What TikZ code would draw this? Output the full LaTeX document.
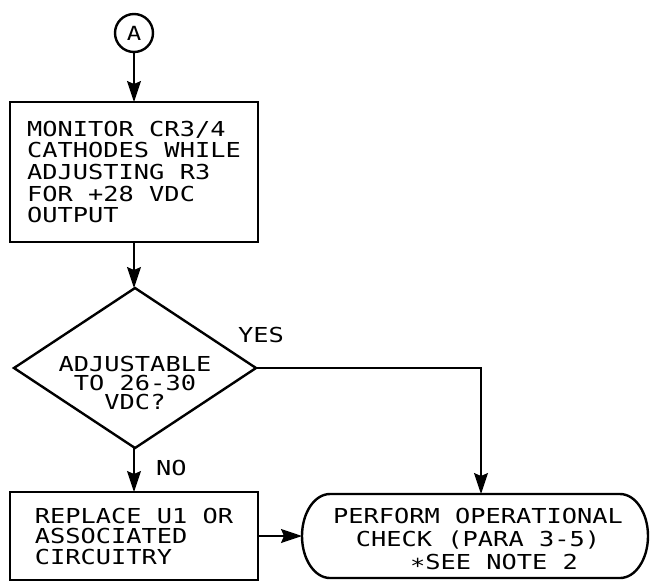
\documentclass[tikz,border=0pt]{standalone}
\usepackage{fontspec}
\usetikzlibrary{arrows.meta,shapes.geometric}
\newfontfamily\plotfont[FakeStretch=1.23]{DejaVu Sans Mono}
\begin{document}
\begin{tikzpicture}[x=1pt,y=-1pt,
  every node/.style={font=\plotfont\fontsize{20.6}{21.7}\selectfont},
  shapeline/.style={draw=black,line width=2.4pt},
  stepbox/.style={shapeline,rectangle,inner sep=0pt,outer sep=0pt},
  decision/.style={shapeline,diamond,inner sep=0pt,outer sep=0pt,
    minimum width=242pt,minimum height=160pt,aspect=1.51},
  conn/.style={draw=black,line width=1.5pt,
    -{Stealth[length=21pt,width=14pt,inset=3pt]}},
  lbl/.style={inner sep=0pt}]
\useasboundingbox (0,0) rectangle (650,582);

% entry connector
\node[shapeline,circle,minimum size=38pt,inner sep=0pt,
  font=\plotfont\fontsize{19.5}{19.5}\selectfont] (A) at (134,33) {A};

% adjustment step
\node[stepbox,minimum width=248pt,minimum height=140pt,align=left]
  (adj) at (134,172)
  {MONITOR CR3/4\\CATHODES WHILE\\ADJUSTING R3\\FOR +28 VDC\\OUTPUT};

% decision
\node[decision] (dec) at (135,368) {};
\node[lbl,align=center,font=\plotfont\fontsize{20.6}{19}\selectfont]
  (dectext) at (135,383) {ADJUSTABLE\\TO 26-30\\VDC?};

% repair step
\node[stepbox,minimum width=248pt,minimum height=88pt,align=left,
  font=\plotfont\fontsize{20.6}{20.5}\selectfont] (rep) at (134,536)
  {REPLACE U1 OR\\ASSOCIATED\\CIRCUITRY};

% terminal
\node[minimum width=346pt,minimum height=84pt,inner sep=0pt,outer sep=0pt]
  (term) at (475,536) {};
\draw[shapeline] ([xshift=28pt]term.north west) -- ([xshift=-28pt]term.north east)
  arc[start angle=90,end angle=-90,x radius=28pt,y radius=42pt]
  -- ([xshift=28pt]term.south west)
  arc[start angle=270,end angle=90,x radius=28pt,y radius=42pt] -- cycle;
\node[lbl,align=center,font=\plotfont\fontsize{20.6}{23}\selectfont]
  (termtext) at (478,541)
  {PERFORM OPERATIONAL\\CHECK (PARA 3-5)\\\hspace*{32pt}\raisebox{-4pt}{*}SEE NOTE 2};

% branch labels
\node[lbl] (yes) at (261,335) {YES};
\node[lbl,anchor=west] (no) at (156,468) {NO};

% connectors
\draw[conn] (A) -- (adj);
\draw[conn] (adj.south) -- (adj.south |- dec.north);
\draw[conn] (adj.south |- dec.south) -- (rep.north);
\draw[conn] (dec.east) -| ([xshift=6pt]term.north);
\draw[conn] (rep.east) -- (term.west);
\end{tikzpicture}
\end{document}
